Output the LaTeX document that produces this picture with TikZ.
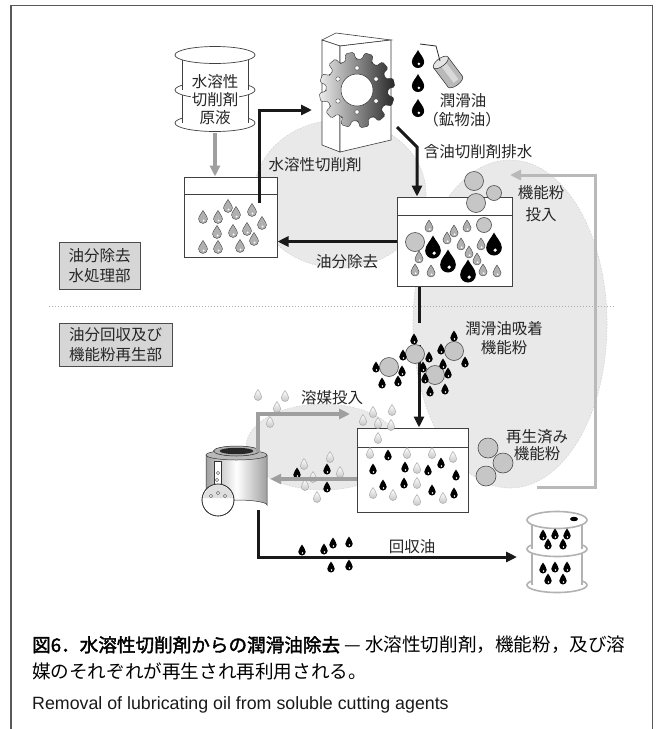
\documentclass[tikz,border=0pt]{standalone}
\usepackage{fontspec}
\usepackage{graphicx}
\setmainfont{Noto Sans CJK JP}
\newfontfamily\capbold{Noto Sans CJK JP}[FakeBold=2]
\newfontfamily\engsans{Liberation Sans}
\usetikzlibrary{arrows.meta,shadows}

% teardrop outline, unit height, tip up (y axis points down)
\newcommand\dropat[4]{\path[shift={(#1,#2)},scale=#3,#4] (0,-0.5) .. controls (0.1,-0.28) and (0.34,-0.08) .. (0.34,0.16) .. controls (0.34,0.35) and (0.19,0.5) .. (0,0.5) .. controls (-0.19,0.5) and (-0.34,0.35) .. (-0.34,0.16) .. controls (-0.34,-0.08) and (-0.1,-0.28) .. (0,-0.5) -- cycle;}
% oil drop with a small white highlight
\newcommand\oilat[4]{\dropat{#1}{#2}{#3}{#4}\fill[white,shift={(#1,#2)},scale=#3] (0.05,0.27) circle (0.08);}

\begin{document}
\begin{tikzpicture}[x=1pt,y=-1pt,
  lbl/.style={font=\fontsize{15.5}{19}\selectfont, text=black!85, inner sep=0pt, align=center},
  tank/.style={draw=black!75, fill=white, line width=1pt, inner sep=0pt},
  blob/.style={fill=gray!17, draw=gray!35, line width=0.6pt, dash pattern=on 1.5pt off 1.5pt},
  blackarrow/.style={draw=black!90, line width=3pt, -{Triangle[length=11pt,width=10pt]}},
  blackline/.style={draw=black!90, line width=3pt},
  grayarrow/.style={draw=gray!75, line width=3.5pt, -{Triangle[length=11pt,width=10pt]}},
  retarrow/.style={draw=gray!55, line width=3pt, -{Triangle[length=11pt,width=10pt]}},
  powder/.style={circle, draw=gray!60!black, fill=gray!45, line width=0.6pt, inner sep=0pt, minimum size=#1},
  sectbox/.style={draw=black!70, fill=gray!32, line width=0.8pt, inner sep=0pt, align=left,
    font=\fontsize{15.5}{19.5}\selectfont, text=black!85,
    drop shadow={shadow xshift=1.2pt, shadow yshift=-1.2pt, fill=gray!70, opacity=1}},
  bar/.style={draw=gray!50!black, fill=white, line width=0.7pt},
  drumline/.style={draw=gray!60, fill=white, line width=1.6pt},
  oilblack/.style={fill=black},
  oilgray/.style={fill=gray!62, draw=gray!40!black, line width=0.35pt},
  solv/.style={top color=white, bottom color=gray!45, draw=gray!65, line width=0.5pt},
]
\useasboundingbox (0,0) rectangle (656,729);
\fill[white] (0,0) rectangle (656,729);

% outer frame, open at the bottom
\draw[black!65, line width=1.6pt] (11,729) -- (11,5.5) -- (652.5,5.5) -- (652.5,729);

% shaded process zones
\path[blob] (340,194) ellipse (86 and 74);
\path[blob] (510,324) ellipse (97 and 164);
\path[blob] (323,447) ellipse (77 and 43);

% section separator
\draw[gray!65, line width=0.9pt, dash pattern=on 1pt off 2pt] (49,306) -- (615,306);

% section labels
\node[sectbox, minimum width=81, minimum height=47] (sec1) at (99.5,265.5) {油分除去\\水処理部};
\node[sectbox, minimum width=113, minimum height=43] (sec2) at (115.5,344.5) {油分回収及び\\機能粉再生部};

% ---- stock drum of soluble cutting agent ----
\filldraw[bar] (215,123) ellipse (40 and 8.5);
\fill[white] (182,90) rectangle (248,123);
\draw[bar] (182,90) -- (182,123) (248,90) -- (248,123);
\filldraw[bar] (215,90) ellipse (40 and 8.5);
\fill[white] (182,55) rectangle (248,90);
\draw[bar] (182,55) -- (182,90) (248,55) -- (248,90);
\filldraw[bar] (215,55) ellipse (40 and 8.5);
\node[lbl, fill=white, inner sep=0.6pt] (stk1) at (215,82) {水溶性};
\node[lbl, fill=white, inner sep=0.6pt] (stk2) at (215,100) {切削剤};
\node[lbl, fill=white, inner sep=0.6pt] (stk3) at (215,118) {原液};
\node[inner sep=0pt, minimum width=80, minimum height=86] (stock) at (215,90) {};

% ---- tanks ----
\node[tank, minimum width=93, minimum height=80] (t1) at (230.5,217) {};
\draw[black!75, line width=1pt] (184,194) -- (277,194);
\node[tank, minimum width=115, minimum height=89] (t2) at (454.5,241.5) {};
\draw[black!75, line width=1pt] (397,215) -- (512,215);
\node[tank, minimum width=111, minimum height=84] (t3) at (412.5,470) {};
\draw[black!75, line width=1pt] (357,447) -- (468,447);

% ---- machine tool block with gear ----
\filldraw[fill=white, draw=gray!45!black, line width=0.6pt] (322,40) -- (336,33) -- (391,40) -- (340,46) -- cycle;
\filldraw[fill=white, draw=gray!45!black, line width=0.6pt] (322,40) -- (340,46) -- (340,152) -- (322,145) -- cycle;
\filldraw[fill=white, draw=gray!45!black, line width=0.6pt] (340,46) -- (391,40) -- (391,140) -- (340,152) -- cycle;
\begin{scope}[shift={(357,90)}]
  \shade[left color=gray!15, right color=black!85, draw=gray!40!black, line width=0.4pt, rounded corners=1.5pt]
    (0:31) \foreach \a in {0,30,...,330} { -- ({\a+9}:31) -- ({\a+12}:38) -- ({\a+25}:38) -- ({\a+28}:31) -- ({\a+30}:31) } -- cycle;
  \filldraw[fill=white, draw=gray!40!black, line width=0.5pt] (0,0) circle (16);
  \foreach \a in {30,90,...,330} \filldraw[fill=white, draw=gray!40!black, line width=0.3pt] (\a:22) circle (2.2);
\end{scope}
\node[inner sep=0pt, minimum width=70, minimum height=120] (mill) at (356,92) {};

% lubricating oil drops and oil can
\foreach \y in {59,83,108} {\oilat{418}{\y}{18}{oilblack}}
\begin{scope}[shift={(448,72)}, rotate=-53]
  \filldraw[fill=gray!55, draw=gray!30!black, line width=0.5pt] (12,0) ellipse (4 and 9);
  \fill[gray!55] (-12,-9) rectangle (12,9);
  \fill[gray!30] (-12,-4) rectangle (12,2);
  \draw[gray!30!black, line width=0.5pt] (-12,-9) -- (12,-9) (-12,9) -- (12,9);
  \filldraw[fill=gray!20, draw=gray!30!black, line width=0.5pt] (-12,0) ellipse (4 and 9);
\end{scope}
\draw[gray!30!black, line width=0.8pt] (420,44) -- (436,46) -- (440,61);

% ---- drops in tank 1 ----
\foreach \x/\y in {203/217,218/217,228/206,236/213,252/210,262/223,217/232,233/231,247/229,254/239,203/247,218/247,240/246}
  {\oilat{\x}{\y}{13}{oilgray}}

% ---- tank 2 contents ----
\foreach \x/\y in {429/226,454/231,467/226,447/238,461/244,469/252,481/244,477/259,419/257,415/270,431/271,483/270,497/271}
  {\oilat{\x}{\y}{12}{oilgray}}
\foreach \x/\y in {433/247,448/261,468/271,494/244}
  {\oilat{\x}{\y}{23}{oilblack}}
\foreach \x/\y/\d [count=\i] in {484/225/15,415/242/19}
  \node[powder=\d] (pt\i) at (\x,\y) {};

% powder being added
\foreach \x/\y/\d [count=\i] in {474/181/19,494/193/15,476/203/19}
  \node[powder=\d] (pin\i) at (\x,\y) {};

% ---- connectors, upper section ----
\draw[grayarrow] (stock.south) -- (stock.south |- t1.north);
\coordinate (feed) at (259,203);
\coordinate (millin) at (312,110);
\draw[blackarrow] (feed) |- (millin);
\coordinate (millout) at (397,127);
\coordinate (bend) at (417,147);
\draw[blackarrow] (millout) -- (bend) -- (bend |- t2.north);
\draw[blackarrow] (t2.west) -- (t2.west -| t1.east);

% ---- oil-laden powder cluster ----
\coordinate (clumptop) at (419,323);
\coordinate (clumpbot) at (419,345);
\draw[blackline] (clumptop |- t2.south) -- (clumptop);
\draw[blackarrow] (clumpbot) -- (clumpbot |- t3.north);
\foreach \x/\y [count=\i] in {415/354,454/351,389/367,435/375}
  \node[powder=19] (pc\i) at (\x,\y) {};
\foreach \x/\y in {414/339,454/336,403/355,429/357,441/349,465/362,443/364,376/367,402/371,423/367,448/373,425/378,382/383,398/381,430/391,445/389}
  {\oilat{\x}{\y}{11}{oilblack}}

% ---- tank 3 contents ----
\foreach \x/\y in {378/438,370/453,407/453,432/453,453/457,417/468,417/483,417/500,373/493,393/495,443/498}
  {\dropat{\x}{\y}{11}{solv}}
\foreach \x/\y in {388/455,373/469,405/467,428/470,441/463,456/475,383/485,404/483,432/490,454/493}
  {\oilat{\x}{\y}{11}{oilblack}}

% solvent drops
\foreach \x/\y in {363/420,373/412,392/410,378/423,391/425,258/395,285/396,277/407,270/422,330/457,304/464,313/477,340/472,305/485,317/497}
  {\dropat{\x}{\y}{11}{solv}}
\foreach \x/\y in {297/473,327/469,327/487}
  {\oilat{\x}{\y}{11}{oilblack}}

% ---- solvent recovery unit ----
\node[inner sep=0pt, minimum width=61, minimum height=58] (cont) at (236.5,481) {};
\shade[left color=gray!75, right color=gray!75, middle color=white] (206,455) -- (206,505) arc[start angle=180, end angle=360, x radius=30.5, y radius=5] -- (267,455) -- cycle;
\draw[gray!40!black, line width=0.5pt] (206,455) -- (206,505) arc[start angle=180, end angle=360, x radius=30.5, y radius=5] -- (267,455);
\filldraw[fill=gray!55, draw=gray!40!black, line width=0.5pt] (236.5,455) ellipse (30.5 and 5);
\filldraw[fill=gray!60, draw=gray!30!black, line width=0.5pt] (236.5,451) ellipse (23 and 5);
\fill[black!85] (236.5,451) ellipse (17 and 3.2);
% flask inside
\filldraw[fill=white, draw=gray!40!black, line width=0.6pt] (214.5,461) rectangle (221.5,486);
\filldraw[fill=white, draw=gray!40!black, line width=0.6pt] (218,500) circle (16);
\fill[gray!25] (203.2,498) arc[start angle=187, end angle=353, radius=15] -- cycle;
\draw[gray!40!black, line width=0.6pt] (218,500) circle (16);
\foreach \x/\y in {211/496,218/493,225/496,218/473,217/480}
  \draw[gray!40!black, line width=0.4pt, fill=white] (\x,\y) circle (1.6);

% ---- lower connectors ----
\coordinate (solvin) at (350,414);
\draw[grayarrow] ([xshift=21.5pt]cont.north) |- (solvin);
\coordinate (t3out) at ([yshift=-9pt]t3.west);
\draw[grayarrow, shorten >=3pt] (t3out) -- (t3out -| cont.east);
\coordinate (oilend) at (517,557);
\draw[blackarrow] ([xshift=21.5pt]cont.south) |- (oilend);
\foreach \x/\y in {302/550,324/549,333/543,349/542,331/567,349/565}
  {\oilat{\x}{\y}{11}{oilblack}}

% regenerated powder and return line
\foreach \x/\y [count=\i] in {488/448,503/463,486/476}
  \node[powder=20] (pr\i) at (\x,\y) {};
\coordinate (retstart) at (537,487);
\coordinate (retend) at (510,175);
\draw[retarrow] (retstart) -- ++(58,0) |- (retend);

% ---- recovered oil drum ----
\filldraw[drumline] (557,585) ellipse (30 and 7.5);
\fill[white] (532,549) rectangle (582,585);
\draw[drumline] (532,549) -- (532,585) (582,549) -- (582,585);
\filldraw[drumline] (557,549) ellipse (30 and 7.5);
\fill[white] (532,520) rectangle (582,549);
\draw[drumline] (532,520) -- (532,549) (582,520) -- (582,549);
\filldraw[drumline] (557,520) ellipse (30 and 8.5);
\fill[black] (574,519) ellipse (4 and 2.2);
\node[inner sep=0pt, minimum width=60, minimum height=80] (drum) at (557,553) {};
\foreach \x/\y in {543/535,555/534,567/534,548/544,563/544,543/568,555/567,567/567,548/579,563/579}
  {\oilat{\x}{\y}{11}{oilblack}}

% ---- labels ----
\node[lbl] (l1) at (315,165) {水溶性切削剤};
\node[lbl] (l2) at (463,101) {潤滑油};
\node[lbl] (l3) at (462,120) {（鉱物油）};
\node[lbl] (l4) at (478,152) {含油切削剤排水};
\node[lbl] (l5) at (541,204) {機能粉\\[3pt]投入};
\node[lbl] (l6) at (347,262) {油分除去};
\node[lbl] (l7) at (504,338) {潤滑油吸着\\機能粉};
\node[lbl] (l8) at (332,398) {溶媒投入};
\node[lbl] (l9) at (537,445.5) {再生済み\\[-2pt]機能粉};
\node[lbl] (l10) at (412,547) {回収油};

% ---- caption ----
\node[anchor=west, inner sep=0pt, font=\fontsize{18.6}{22}\selectfont, text=black] (cap1) at (32,645)
  {{\capbold 図6．水溶性切削剤からの潤滑油除去}\ — 水溶性切削剤，機能粉，及び溶};
\node[anchor=west, inner sep=0pt, font=\fontsize{18.6}{22}\selectfont, text=black] (cap2) at (32,671)
  {媒のそれぞれが再生され再利用される。};
\node[anchor=west, inner sep=0pt, font=\engsans\fontsize{17.8}{21}\selectfont, text=black!90] (cap3) at (32,705)
  {Removal of lubricating oil from soluble cutting agents};
\end{tikzpicture}
\end{document}
